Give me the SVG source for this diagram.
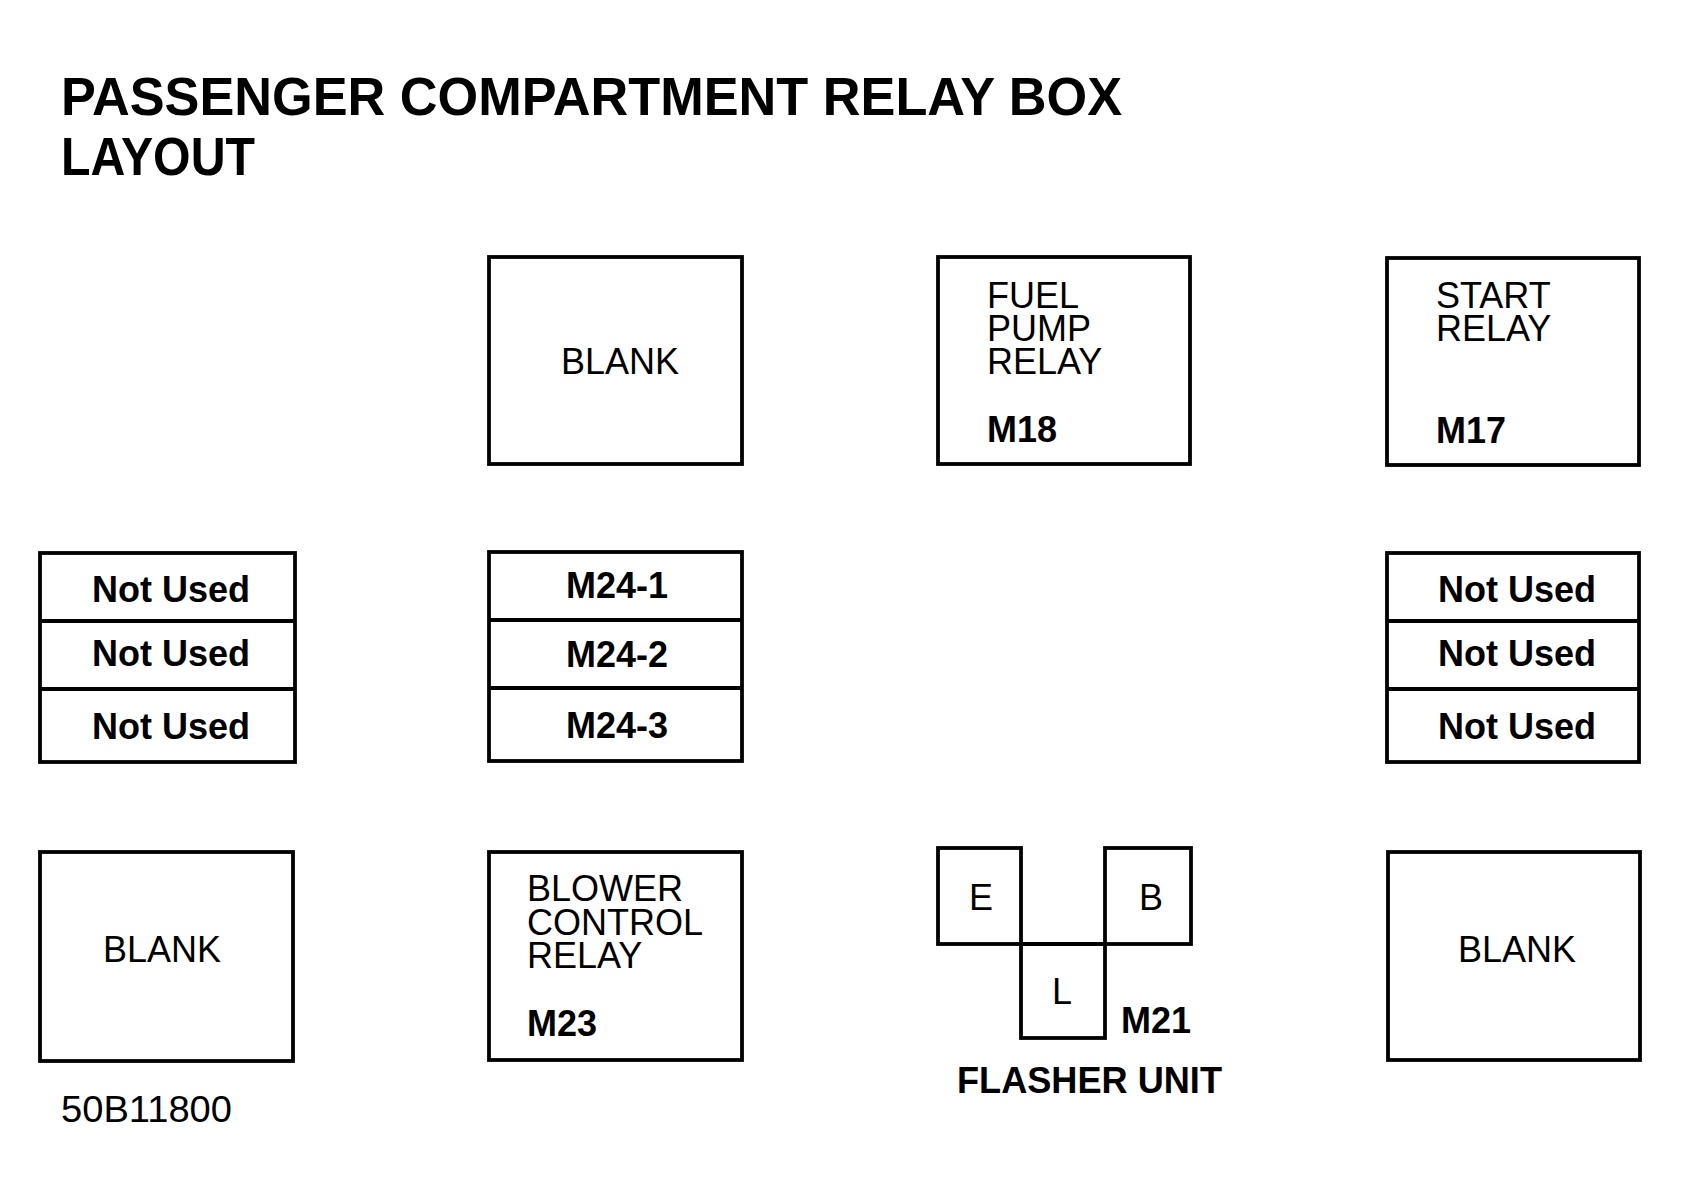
<svg xmlns="http://www.w3.org/2000/svg" width="1681" height="1197" viewBox="0 0 1681 1197">
<style>
.box{fill:none;stroke:#000;stroke-width:3.8}
.t{font-family:"Liberation Sans",Arial,sans-serif;font-size:36px;fill:#000}
.b{font-weight:bold}
.c{text-anchor:middle}
.title{font-family:"Liberation Sans",Arial,sans-serif;font-size:54px;font-weight:bold;fill:#000}
</style>
<rect width="1681" height="1197" fill="#fff"/>
<g id="title">
<text class="title" x="61" y="115" textLength="1061" lengthAdjust="spacingAndGlyphs">PASSENGER COMPARTMENT RELAY BOX</text>
<text class="title" x="61" y="175" textLength="194" lengthAdjust="spacingAndGlyphs">LAYOUT</text>
</g>
<g id="blank-top">
<rect class="box" x="489" y="257" width="253" height="207"/>
<text class="t c" x="620" y="374">BLANK</text>
</g>
<g id="fuel-pump-relay">
<rect class="box" x="938" y="257" width="252" height="207"/>
<text class="t" x="987" y="308">FUEL</text>
<text class="t" x="987" y="341">PUMP</text>
<text class="t" x="987" y="374">RELAY</text>
<text class="t b" x="987" y="442">M18</text>
</g>
<g id="start-relay">
<rect class="box" x="1387" y="258" width="252" height="207"/>
<text class="t" x="1436" y="308">START</text>
<text class="t" x="1436" y="341">RELAY</text>
<text class="t b" x="1436" y="443">M17</text>
</g>
<g id="not-used-left">
<rect class="box" x="40" y="553" width="255" height="209"/>
<line class="box" x1="40" y1="621" x2="295" y2="621"/>
<line class="box" x1="40" y1="689" x2="295" y2="689"/>
<text class="t b c" x="171" y="602">Not Used</text>
<text class="t b c" x="171" y="666">Not Used</text>
<text class="t b c" x="171" y="739">Not Used</text>
</g>
<g id="m24">
<rect class="box" x="489" y="552" width="253" height="209"/>
<line class="box" x1="489" y1="620" x2="742" y2="620"/>
<line class="box" x1="489" y1="688" x2="742" y2="688"/>
<text class="t b c" x="617" y="598">M24-1</text>
<text class="t b c" x="617" y="667">M24-2</text>
<text class="t b c" x="617" y="738">M24-3</text>
</g>
<g id="not-used-right">
<rect class="box" x="1387" y="553" width="252" height="209"/>
<line class="box" x1="1387" y1="621" x2="1639" y2="621"/>
<line class="box" x1="1387" y1="689" x2="1639" y2="689"/>
<text class="t b c" x="1517" y="602">Not Used</text>
<text class="t b c" x="1517" y="666">Not Used</text>
<text class="t b c" x="1517" y="739">Not Used</text>
</g>
<g id="blank-bottom-left">
<rect class="box" x="40" y="852" width="253" height="209"/>
<text class="t c" x="162" y="962">BLANK</text>
</g>
<g id="blower-control-relay">
<rect class="box" x="489" y="852" width="253" height="208"/>
<text class="t" x="527" y="901">BLOWER</text>
<text class="t" x="527" y="935">CONTROL</text>
<text class="t" x="527" y="968">RELAY</text>
<text class="t b" x="527" y="1036">M23</text>
</g>
<g id="flasher-unit">
<rect class="box" x="938" y="848" width="83" height="96"/>
<rect class="box" x="1105" y="848" width="86" height="96"/>
<rect class="box" x="1021" y="944" width="84" height="94"/>
<line class="box" x1="1021" y1="944" x2="1105" y2="944"/>
<text class="t c" x="981" y="910">E</text>
<text class="t c" x="1151" y="910">B</text>
<text class="t c" x="1062" y="1004">L</text>
<text class="t b" x="1121" y="1033">M21</text>
<text class="t b" x="957" y="1093" textLength="265" lengthAdjust="spacingAndGlyphs">FLASHER UNIT</text>
</g>
<g id="blank-bottom-right">
<rect class="box" x="1388" y="852" width="252" height="208"/>
<text class="t c" x="1517" y="962">BLANK</text>
</g>
<g id="connectors"></g>
<text class="t" x="61" y="1122" style="font-size:37px" textLength="171" lengthAdjust="spacingAndGlyphs">50B11800</text>
</svg>
